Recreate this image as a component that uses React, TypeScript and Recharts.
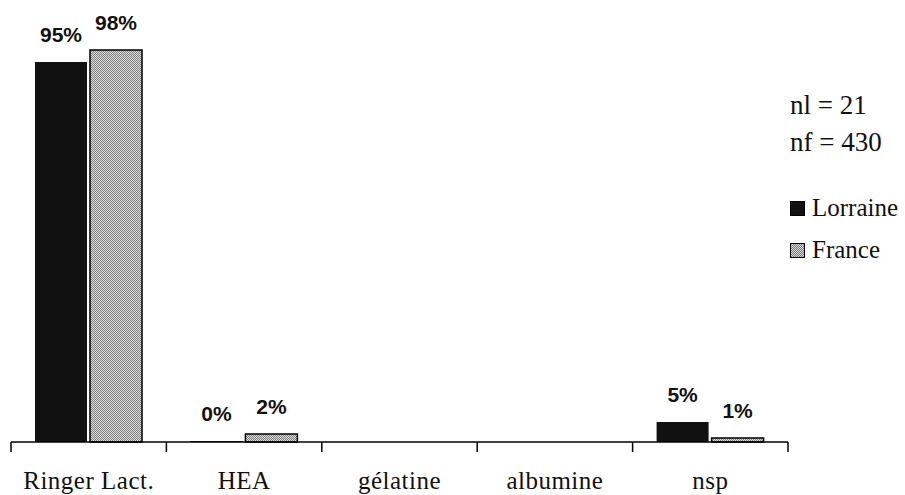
import React from 'react';
import { BarChart, Bar, XAxis, YAxis, LabelList, Legend } from 'recharts';

const categories = ['Ringer Lact.', 'HEA', 'gélatine', 'albumine', 'nsp'];
const lorraine: (number | null)[] = [95, 0, null, null, 5];
const france: (number | null)[] = [98, 2, null, null, 1];
const notes = ['nl = 21', 'nf = 430'];
const seriesNames = ['Lorraine', 'France'];

const data = categories.map((cat, i) => ({ cat, Lorraine: lorraine[i], France: france[i] }));

const SERIF = '"Liberation Serif", "Times New Roman", serif';
const SANS = '"Liberation Sans", Arial, sans-serif';

const fmt = (v: any) => (v === null || v === undefined ? '' : `${v}%`);

const Swatch = ({ name }: { name: string }) => (
  <svg width={15} height={15} style={{ marginRight: 7, flex: 'none' }}>
    <rect x={0.5} y={0.5} width={14} height={14}
      fill={name === 'France' ? 'url(#dotsLeg)' : '#111'} stroke="#000" strokeWidth={1} />
  </svg>
);

const LegendContent = (props: any) => {
  const payload = [...(props.payload || [])].sort(
    (a: any, b: any) => seriesNames.indexOf(a.value) - seriesNames.indexOf(b.value)
  );
  return (
    <div style={{ fontFamily: SERIF, color: '#111' }}>
      {notes.map((n) => (
        <div key={n} style={{ fontSize: 27, height: 37, lineHeight: '37px', whiteSpace: 'nowrap' }}>{n}</div>
      ))}
      <div style={{ height: 26 }} />
      {payload.map((p: any) => (
        <div key={p.value} style={{ display: 'flex', alignItems: 'center', height: 42, lineHeight: '42px', fontSize: 25, whiteSpace: 'nowrap' }}>
          <Swatch name={p.value} />
          <span>{p.value}</span>
        </div>
      ))}
    </div>
  );
};

const CatTick = (props: any) => {
  const { x, y, payload, index } = props;
  const half = (payload && payload.offset) || 77.7;
  return (
    <g>
      <line x1={x - half} x2={x - half} y1={y} y2={y + 10} stroke="#000" strokeWidth={1.5} />
      {index === categories.length - 1 && (
        <line x1={x + half} x2={x + half} y1={y} y2={y + 10} stroke="#000" strokeWidth={1.5} />
      )}
      <text x={x} y={y + 47} textAnchor="middle" fill="#111" fontSize={25} fontFamily={SERIF} letterSpacing={0.5}>
        {payload.value}
      </text>
    </g>
  );
};

const labelStyle = { fill: '#111', fontSize: 21, fontWeight: 'bold' as const, fontFamily: SANS };

export default function App() {
  return (
    <div style={{ position: 'absolute', left: 0, top: 0, width: 905, height: 495, background: '#fff' }}>
      <svg width={0} height={0} style={{ position: 'absolute' }}>
        <defs>
          <pattern id="dotsLeg" width={2} height={2} patternUnits="userSpaceOnUse">
            <rect width={2} height={2} fill="#d8d8d8" />
            <rect width={1} height={1} fill="#7a7a7a" />
            <rect x={1} y={1} width={1} height={1} fill="#7a7a7a" />
          </pattern>
        </defs>
      </svg>
      <BarChart
        width={905}
        height={495}
        data={data}
        margin={{ top: 10, right: 117, bottom: 0, left: 11 }}
        barGap={3}
      >
        <defs>
          <pattern id="dots" width={2} height={2} patternUnits="userSpaceOnUse">
            <rect width={2} height={2} fill="#dcdcdc" />
            <rect width={1} height={1} fill="#808080" />
            <rect x={1} y={1} width={1} height={1} fill="#808080" />
          </pattern>
        </defs>
        <XAxis
          dataKey="cat"
          height={53}
          tickSize={0}
          tickMargin={0}
          tickLine={false}
          axisLine={{ stroke: '#000', strokeWidth: 1.5 }}
          tick={<CatTick />}
          interval={0}
        />
        <YAxis hide domain={[0, 108]} />
        <Legend
          layout="vertical"
          align="center"
          verticalAlign="middle"
          content={<LegendContent />}
          wrapperStyle={{ left: 790, top: 87, width: 115 }}
        />
        <Bar dataKey={seriesNames[0]} fill="#111" barSize={52} isAnimationActive={false}
          minPointSize={(v: any) => (v === 0 ? 1 : 0)}>
          <LabelList dataKey={seriesNames[0]} position="top" offset={20} formatter={fmt} style={labelStyle} />
        </Bar>
        <Bar dataKey={seriesNames[1]} fill="url(#dots)" stroke="#000" strokeWidth={1.5} barSize={52} isAnimationActive={false}>
          <LabelList dataKey={seriesNames[1]} position="top" offset={20} formatter={fmt} style={labelStyle} />
        </Bar>
      </BarChart>
    </div>
  );
}
